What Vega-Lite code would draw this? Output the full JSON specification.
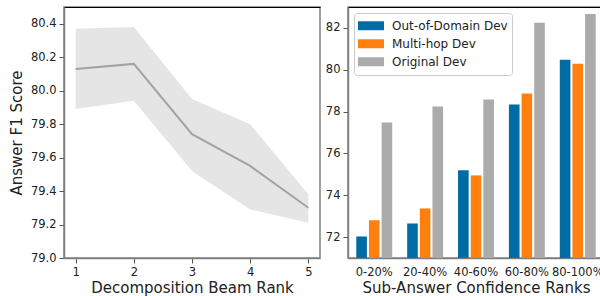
{
  "$schema": "https://vega.github.io/schema/vega-lite/v6.json",
  "autosize": {"type": "pad"},
  "padding": {"left": 8, "top": 6, "right": 0, "bottom": 0},
  "spacing": 3,
  "config": {
    "font": "DejaVu Sans",
    "view": {"stroke": "#808080", "strokeWidth": 1.5},
    "axis": {
      "grid": false,
      "domainColor": "#808080",
      "domainWidth": 1.5,
      "tickColor": "#555555",
      "tickSize": 5,
      "tickWidth": 1,
      "labelFont": "DejaVu Sans",
      "labelFontSize": 11.5,
      "labelColor": "#222222",
      "labelPadding": 3,
      "labelOverlap": false,
      "labelBound": false,
      "titleFont": "DejaVu Sans",
      "titleFontSize": 15,
      "titleFontWeight": "normal",
      "titleColor": "#222222"
    }
  },
  "resolve": {"legend": {"color": "independent"}},
  "hconcat": [
    {
      "width": 256,
      "height": 251,
      "data": {
        "values": [
          {"rank": 1, "mean": 80.13, "lo": 79.89, "hi": 80.37},
          {"rank": 2, "mean": 80.16, "lo": 79.94, "hi": 80.38},
          {"rank": 3, "mean": 79.74, "lo": 79.52, "hi": 79.95},
          {"rank": 4, "mean": 79.55, "lo": 79.29, "hi": 79.8},
          {"rank": 5, "mean": 79.3, "lo": 79.21, "hi": 79.38}
        ]
      },
      "layer": [
        {
          "mark": {"type": "area", "color": "#E5E5E5", "opacity": 1},
          "encoding": {
            "x": {
              "field": "rank",
              "type": "quantitative",
              "scale": {"domain": [0.8, 5.2], "nice": false},
              "axis": {"orient": "bottom", "values": [1, 2, 3, 4, 5], "format": "d", "labelOverlap": false, "title": "Decomposition Beam Rank", "titlePadding": 3}
            },
            "y": {
              "field": "lo",
              "type": "quantitative",
              "scale": {"domain": [79, 80.5], "nice": false, "zero": false},
              "axis": {"values": [79, 79.2, 79.4, 79.6, 79.8, 80, 80.2, 80.4], "format": ".1f", "labelOverlap": false, "tickCount": 8, "title": "Answer F1 Score", "titlePadding": 6}
            },
            "y2": {"field": "hi"}
          }
        },
        {
          "mark": {"type": "line", "color": "#A3A3A3", "strokeWidth": 2},
          "encoding": {
            "x": {"field": "rank", "type": "quantitative", "axis": null},
            "y": {"field": "mean", "type": "quantitative"}
          }
        },
        {
          "mark": {"type": "point", "opacity": 0},
          "encoding": {
            "x": {
              "field": "rank",
              "type": "quantitative",
              "axis": {"orient": "top", "domainColor": "#000000", "domainWidth": 1.2, "ticks": false, "labels": false, "title": null}
            },
            "y": {"field": "mean", "type": "quantitative"}
          }
        }
      ],
      "resolve": {"axis": {"x": "independent"}}
    },
    {
      "width": 256,
      "height": 251,
      "data": {
        "values": [
          {"bin": "0-20%", "dataset": "Out-of-Domain Dev", "score": 72.03},
          {"bin": "0-20%", "dataset": "Multi-hop Dev", "score": 72.8},
          {"bin": "0-20%", "dataset": "Original Dev", "score": 77.48},
          {"bin": "20-40%", "dataset": "Out-of-Domain Dev", "score": 72.65},
          {"bin": "20-40%", "dataset": "Multi-hop Dev", "score": 73.37},
          {"bin": "20-40%", "dataset": "Original Dev", "score": 78.24},
          {"bin": "40-60%", "dataset": "Out-of-Domain Dev", "score": 75.19},
          {"bin": "40-60%", "dataset": "Multi-hop Dev", "score": 74.95},
          {"bin": "40-60%", "dataset": "Original Dev", "score": 78.58},
          {"bin": "60-80%", "dataset": "Out-of-Domain Dev", "score": 78.34},
          {"bin": "60-80%", "dataset": "Multi-hop Dev", "score": 78.86},
          {"bin": "60-80%", "dataset": "Original Dev", "score": 82.25},
          {"bin": "80-100%", "dataset": "Out-of-Domain Dev", "score": 80.48},
          {"bin": "80-100%", "dataset": "Multi-hop Dev", "score": 80.29},
          {"bin": "80-100%", "dataset": "Original Dev", "score": 82.67}
        ]
      },
      "layer": [
        {
          "mark": {"type": "bar"},
          "encoding": {
            "x": {
              "field": "bin",
              "type": "nominal",
              "sort": ["0-20%", "20-40%", "40-60%", "60-80%", "80-100%"],
              "scale": {"paddingInner": 0.294, "paddingOuter": 0.163},
              "axis": {"orient": "bottom", "labelAngle": 0, "ticks": false, "labelPadding": 8, "title": "Sub-Answer Confidence Ranks", "titlePadding": 3}
            },
            "xOffset": {
              "field": "dataset",
              "type": "nominal",
              "sort": ["Out-of-Domain Dev", "Multi-hop Dev", "Original Dev"],
              "scale": {"paddingInner": 0.16, "paddingOuter": 0}
            },
            "y": {
              "field": "score",
              "type": "quantitative",
              "stack": null,
              "scale": {"domain": [71, 83], "nice": false, "zero": false},
              "axis": {"values": [72, 74, 76, 78, 80, 82], "title": null}
            },
            "color": {
              "field": "dataset",
              "type": "nominal",
              "sort": ["Out-of-Domain Dev", "Multi-hop Dev", "Original Dev"],
              "scale": {"domain": ["Out-of-Domain Dev", "Multi-hop Dev", "Original Dev"], "range": ["#006BA4", "#FF800E", "#ABABAB"]},
              "legend": {
                "title": null,
                "orient": "top-left",
                "offset": 6,
                "symbolType": "M-1,-0.35H1V0.35H-1Z",
                "symbolSize": 676,
                "symbolStrokeWidth": 0,
                "symbolOpacity": 1,
                "clipHeight": 17.5,
                "rowPadding": 0,
                "labelFont": "DejaVu Sans",
                "labelFontSize": 12,
                "labelColor": "#222222",
                "labelOffset": 8,
                "padding": 4,
                "strokeColor": "#CCCCCC",
                "fillColor": "rgba(255,255,255,0.8)",
                "cornerRadius": 3
              }
            }
          }
        },
        {
          "mark": {"type": "point", "opacity": 0},
          "encoding": {
            "x": {
              "field": "bin",
              "type": "nominal",
              "sort": ["0-20%", "20-40%", "40-60%", "60-80%", "80-100%"],
              "axis": {"orient": "top", "domainColor": "#000000", "domainWidth": 1.2, "ticks": false, "labels": false, "title": null}
            },
            "y": {"field": "score", "type": "quantitative"}
          }
        }
      ],
      "resolve": {"axis": {"x": "independent"}}
    }
  ]
}
